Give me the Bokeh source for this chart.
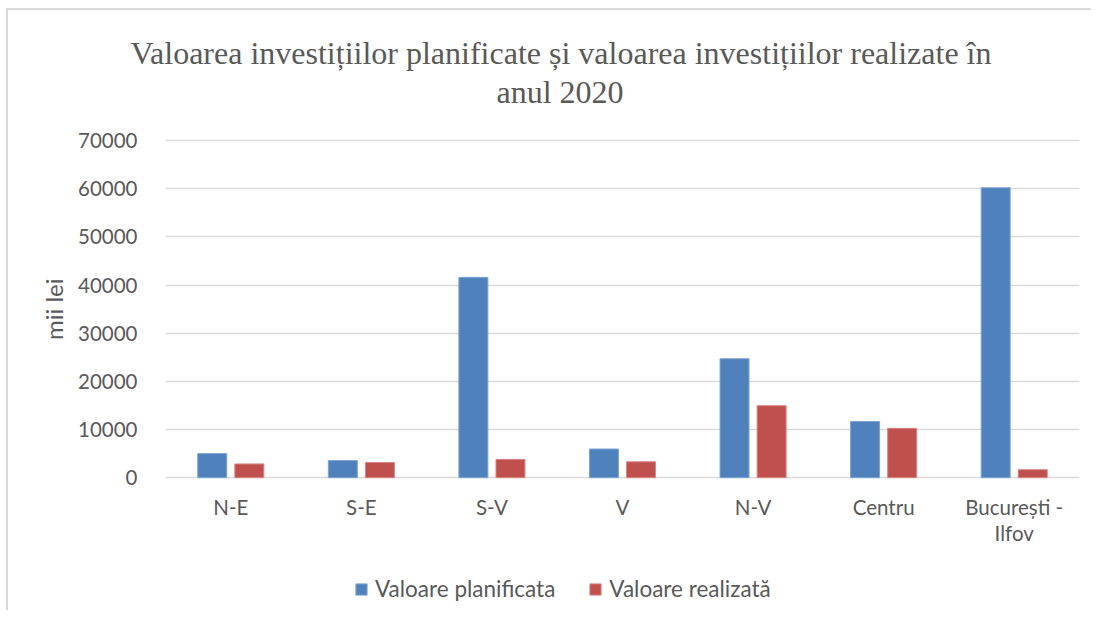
from bokeh.plotting import figure
from bokeh.models import (ColumnDataSource, FactorRange, Range1d, Title, Legend, LegendItem,
                          FixedTicker)
from bokeh.core.properties import value
from bokeh.transform import dodge
from bokeh.embed import file_html
from bokeh.resources import INLINE

categories = ["N-E", "S-E", "S-V", "V", "N-V", "Centru", "București -\nIlfov"]
planned = [5000, 3550, 41600, 5950, 24700, 11650, 60200]
realized = [2850, 3150, 3800, 3300, 14950, 10250, 1650]
series_names = ["Valoare planificata", "Valoare realizată"]
y_ticks = [0, 10000, 20000, 30000, 40000, 50000, 60000, 70000]
title_lines = ["Valoarea investițiilor planificate și valoarea investițiilor realizate în", "anul 2020"]
y_label = "mii lei"

BLUE = "#4F81BD"
RED = "#C0504D"
TXT = "#595959"
GRID = "#D9D9D9"
FONT = "Lato"

source = ColumnDataSource(dict(cat=categories, planned=planned, realized=realized))

# frame extends below the zero line so that category labels and legend sit inside it
p = figure(
    x_range=FactorRange(*categories, range_padding=0),
    y_range=Range1d(-28000, 76250),
    width=1085, height=602,
    output_backend="svg", toolbar_location=None,
    min_border_left=157, min_border_right=14, min_border_top=100, min_border_bottom=0,
)
p.styles = {"border-left": "2px solid #D9D9D9", "border-top": "2px solid #D9D9D9",
            "margin-left": "6px", "margin-top": "8px"}
p.outline_line_color = None
p.background_fill_color = "white"
p.border_fill_color = "white"

r1 = p.vbar(x=dodge("cat", -0.142, range=p.x_range), top="planned", width=0.222,
            source=source, fill_color=BLUE, line_color="#7FA3D1", line_width=1)
r2 = p.vbar(x=dodge("cat", 0.142, range=p.x_range), top="realized", width=0.222,
            source=source, fill_color=RED, line_color="#D78683", line_width=1)

# category labels under the zero line
p.text(x="cat", y=-3700, text="cat", source=source, text_align="center", text_baseline="top",
       text_font=value(FONT), text_font_size="20.5px", text_color=TXT, text_line_height=1.05)

# y axis
p.yaxis.ticker = FixedTicker(ticks=y_ticks)
p.yaxis.axis_line_color = None
p.yaxis.major_tick_line_color = None
p.yaxis.minor_tick_line_color = None
p.yaxis.major_tick_out = 0
p.yaxis.major_label_standoff = 28
p.yaxis.major_label_text_font = FONT
p.yaxis.major_label_text_font_size = "20.5px"
p.yaxis.major_label_text_color = TXT
# the frame reaches down to the legend, so pad the (bottom-to-top) label start with
# non-breaking spaces to lift it to the middle of the 0..70000 band
p.yaxis.axis_label = "\u00a0" * 17 + y_label
p.yaxis.axis_label_text_font = FONT
p.yaxis.axis_label_text_font_size = "24px"
p.yaxis.axis_label_text_font_style = "normal"
p.yaxis.axis_label_text_color = TXT
p.yaxis.axis_label_standoff = 7
p.yaxis.formatter.use_scientific = False
p.xaxis.visible = False

p.xgrid.grid_line_color = None
p.ygrid.grid_line_color = GRID
p.ygrid.grid_line_width = 1.5

# two-line title: the line added first sits closest to the frame
p.add_layout(Title(text=title_lines[1], align="left", offset=331, standoff=2,
                   text_font="Liberation Serif", text_font_size="32px",
                   text_font_style="normal", text_color=TXT), "above")
p.add_layout(Title(text=title_lines[0], align="left", offset=-35, standoff=0,
                   text_font="Liberation Serif", text_font_size="32px",
                   text_font_style="normal", text_color=TXT), "above")

legend = Legend(items=[LegendItem(label=series_names[0], renderers=[r1]),
                       LegendItem(label=series_names[1], renderers=[r2])],
                orientation="horizontal", location=(189, 10),
                glyph_width=14, glyph_height=14, label_standoff=7, spacing=33,
                label_height=20, padding=0, margin=0, border_line_color=None,
                background_fill_alpha=0,
                label_text_font=FONT, label_text_font_size="22.5px", label_text_color=TXT)
p.add_layout(legend, "center")

open("out.html", "w").write(file_html(p, INLINE))
